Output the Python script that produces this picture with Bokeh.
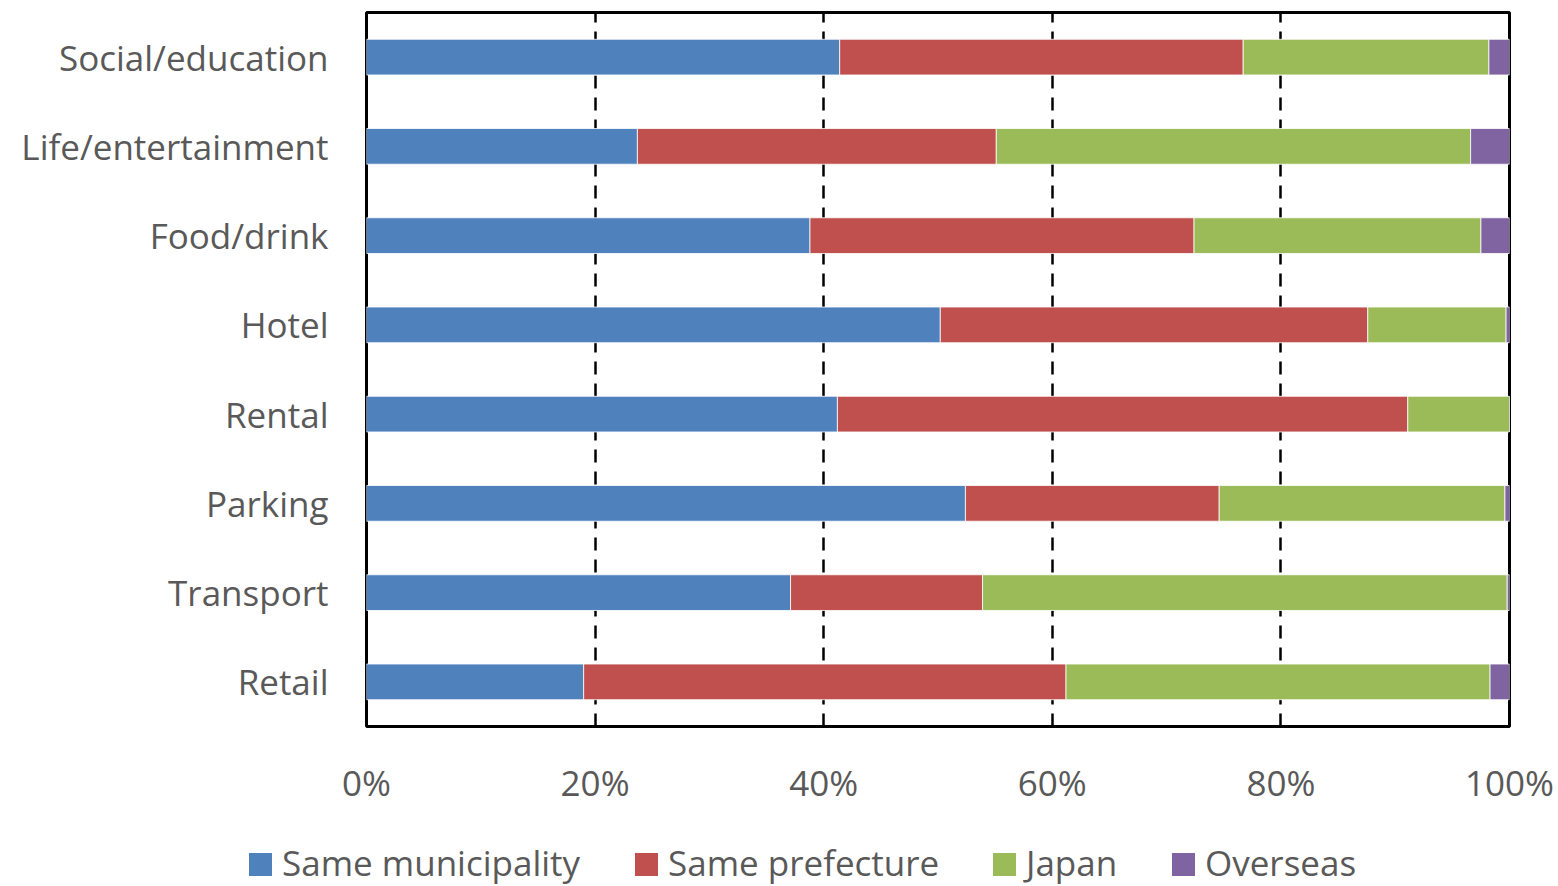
from bokeh.plotting import figure
from bokeh.layouts import column
from bokeh.models import FactorRange, Range1d, NumeralTickFormatter, FixedTicker, Div
from bokeh.embed import file_html
from bokeh.resources import INLINE

categories = ["Retail", "Transport", "Parking", "Rental", "Hotel",
              "Food/drink", "Life/entertainment", "Social/education"]
same_municipality = [0.190, 0.371, 0.524, 0.412, 0.502, 0.388, 0.237, 0.414]
same_prefecture   = [0.422, 0.168, 0.222, 0.499, 0.374, 0.336, 0.314, 0.353]
japan             = [0.371, 0.459, 0.250, 0.089, 0.121, 0.251, 0.415, 0.215]
overseas          = [0.017, 0.002, 0.004, 0.000, 0.003, 0.025, 0.034, 0.018]
series_names = ["Same municipality", "Same prefecture", "Japan", "Overseas"]
colors = ["#4F81BD", "#C0504D", "#9BBB59", "#8064A2"]
keys = ["m", "p", "j", "o"]

data = dict(cat=categories, m=same_municipality, p=same_prefecture, j=japan, o=overseas)

FONT = "Open Sans"
GRAY = "#595959"

p = figure(width=1558, height=820, y_range=FactorRange(*categories),
           x_range=Range1d(0, 1), output_backend="svg", toolbar_location=None,
           min_border_left=366, min_border_right=49, min_border_top=12, min_border_bottom=94)
p.background_fill_color = "white"
p.border_fill_color = "white"

rs = p.hbar_stack(keys, y="cat", height=0.4, color=colors, source=data,
                  line_color="white", line_width=0.8)

p.outline_line_color = "black"
p.outline_line_width = 3

p.ygrid.grid_line_color = None
p.xgrid.ticker = FixedTicker(ticks=[0.2, 0.4, 0.6, 0.8])
p.xgrid.grid_line_color = "black"
p.xgrid.grid_line_width = 2.5
p.xgrid.grid_line_dash = "13 9"

p.xaxis.ticker = FixedTicker(ticks=[0, 0.2, 0.4, 0.6, 0.8, 1.0])
p.xaxis.formatter = NumeralTickFormatter(format="0%")
for ax in (p.xaxis[0], p.yaxis[0]):
    ax.axis_line_color = None
    ax.major_tick_line_color = None
    ax.minor_tick_line_color = None
    ax.major_label_text_font = FONT
    ax.major_label_text_font_size = "35px"
    ax.major_label_text_color = GRAY
p.xaxis.major_label_standoff = 26
p.yaxis.major_label_standoff = 32

# legend strip below the chart (HTML text)
item_left = [249, 635, 993, 1172]
parts = []
for name, col, x in zip(series_names, colors, item_left):
    parts.append(
        f'<span style="position:absolute;left:{x}px;top:33px;width:23px;height:23px;'
        f'background:{col};"></span>'
        f'<span style="position:absolute;left:{x + 33}px;top:25px;line-height:35px;'
        f'white-space:nowrap;">{name}</span>'
    )
html = (f'<div style="position:relative;width:1558px;height:66px;font-family:\'{FONT}\';'
        f'font-size:35px;color:{GRAY};">' + "".join(parts) + '</div>')
legend_div = Div(text=html, width=1558, height=66, margin=0,
                 styles={"overflow": "visible"})

layout = column(p, legend_div, spacing=0)
open("out.html", "w").write(file_html(layout, INLINE))
